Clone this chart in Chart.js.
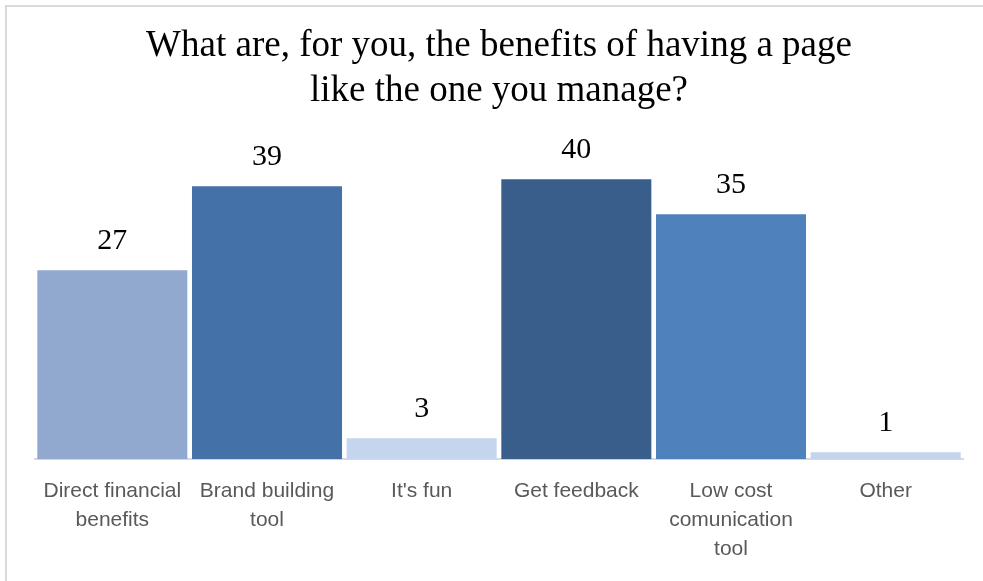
<!DOCTYPE html>
<html>
<head>
<meta charset="utf-8">
<script src="https://cdn.jsdelivr.net/npm/chart.js@4/dist/chart.umd.min.js"></script>
<style>
    html, body { margin: 0; padding: 0; background: #fff; overflow: hidden; }
    #wrap { position: relative; width: 983px; height: 581px; }
    #frame {
        position: absolute; left: 5px; top: 5px; width: 1000px; height: 600px;
        border: 2px solid #d9d9d9; pointer-events: none;
    }
</style>
</head>
<body>
<div id="wrap">
    <canvas id="chart" width="983" height="581"></canvas>
    <div id="frame"></div>
</div>
<script>
const CATEGORIES = [
    ['Direct financial', 'benefits'],
    ['Brand building', 'tool'],
    "It's fun",
    'Get feedback',
    ['Low cost', 'comunication', 'tool'],
    'Other'
];
const VALUES = [27, 39, 3, 40, 35, 1];
const BAR_COLORS = ['#91a9cf', '#4471a7', '#c6d5ee', '#3a5e8c', '#4f81bd', '#c4d4ed'];

// writes each bar's value just above it
const valueLabels = {
    id: 'valueLabels',
    afterDatasetsDraw(chart) {
        const ctx = chart.ctx;
        const meta = chart.getDatasetMeta(0);
        ctx.save();
        ctx.font = '30px "Liberation Serif", serif';
        ctx.fillStyle = '#000';
        ctx.textAlign = 'center';
        ctx.textBaseline = 'middle';
        meta.data.forEach(function (bar, i) {
            ctx.fillText(String(VALUES[i]), bar.x, bar.y - 29);
        });
        ctx.restore();
    }
};

new Chart(document.getElementById('chart'), {
    type: 'bar',
    data: {
        labels: CATEGORIES,
        datasets: [{
            data: VALUES,
            backgroundColor: BAR_COLORS,
            borderWidth: 0,
            categoryPercentage: 1,
            barPercentage: 0.97
        }]
    },
    options: {
        responsive: false,
        animation: false,
        layout: {
            padding: { left: 35, right: 20, top: 0, bottom: 0 }
        },
        plugins: {
            legend: { display: false },
            tooltip: { enabled: false },
            title: {
                display: true,
                text: ['What are, for you, the benefits of having a page', 'like the one you manage?'],
                color: '#000',
                font: { family: '"Liberation Serif", serif', size: 37, weight: 'normal', lineHeight: 1.22 },
                padding: { top: 24, bottom: 30 }
            }
        },
        scales: {
            x: {
                grid: { display: false, drawTicks: false },
                border: { display: true, color: '#d9d9d9', width: 2 },
                ticks: {
                    color: '#595959',
                    font: { family: '"Liberation Sans", sans-serif', size: 21, lineHeight: 1.36 },
                    padding: 18,
                    maxRotation: 0,
                    autoSkip: false
                }
            },
            y: {
                display: false,
                min: 0,
                max: 45
            }
        }
    },
    plugins: [valueLabels]
});
</script>
</body>
</html>
